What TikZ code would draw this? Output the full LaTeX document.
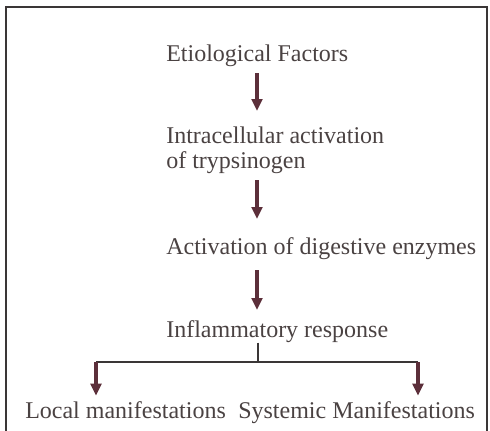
\documentclass[tikz,border=0pt]{standalone}
\usepackage{fontspec}
\setmainfont{Liberation Serif}
\usetikzlibrary{arrows.meta, positioning}

\definecolor{textgrey}{HTML}{4A4242}
\definecolor{arrowred}{HTML}{5C2F3A}
\definecolor{framegrey}{HTML}{3A3636}

\tikzset{
  label/.style={anchor=base west, inner sep=0pt, text=textgrey, align=left,
    font=\fontsize{18}{18.5}\selectfont, text height=12pt, text depth=4pt},
  arr/.style={draw=arrowred, line width=2.4pt,
    -{Triangle[width=8pt, length=9pt]}, shorten <=5pt, shorten >=12pt},
  branch/.style={draw=framegrey, line width=0.8pt}
}

\begin{document}
\begin{tikzpicture}[x=0.75pt, y=-0.75pt]
  \useasboundingbox (0,0) rectangle (490,430);
  % Frame (bottom edge runs off the page)
  \draw[framegrey, line width=1.1pt] (6,440) -- (6,7) -- (487,7) -- (487,440);
  % Steps
  \node[label] (etio) at (166,61) {Etiological Factors};
  \node[label, text height=30.5pt] (intra) at (166,168) {Intracellular activation\\of trypsinogen};
  \node[label] (activ) at (166,254) {Activation of digestive enzymes};
  \node[label] (infl) at (166,337) {Inflammatory response};
  \node[label] (local) at (25,418) {Local manifestations};
  \node[label] (sys) at (238,418) {Systemic Manifestations};
  \coordinate (axis) at (257,0);
  \coordinate (fork) at (258,362);
  \coordinate (lx) at (96,0);
  \coordinate (rx) at (418,0);
  % Arrows
  \draw[arr] (etio.south -| axis) -- (intra.north -| axis);
  \draw[arr, shorten >=14pt] (intra.south -| axis) -- (activ.north -| axis);
  \draw[arr, shorten <=8pt, shorten >=8pt] (activ.south -| axis) -- (infl.north -| axis);
  % Branching
  \draw[branch] (infl.south -| fork) -- (fork);
  \draw[branch] (fork -| lx) -- (fork -| rx);
  \draw[arr, shorten <=0pt, shorten >=4.5pt] (fork -| lx) -- (local.north -| lx);
  \draw[arr, shorten <=0pt, shorten >=4.5pt] (fork -| rx) -- (sys.north -| rx);
\end{tikzpicture}
\end{document}
